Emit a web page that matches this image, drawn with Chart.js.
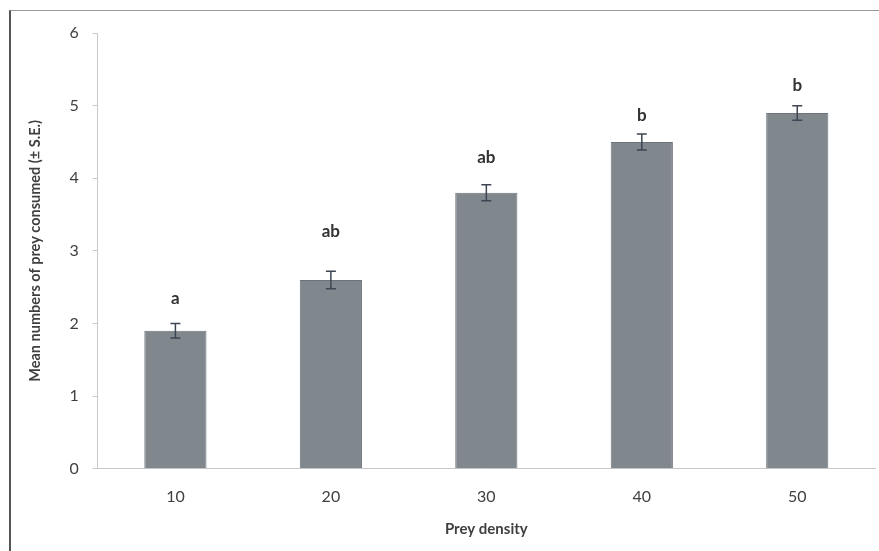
<!DOCTYPE html>
<html>
<head>
<meta charset="utf-8">
<script src="https://cdn.jsdelivr.net/npm/chart.js@4.4.1/dist/chart.umd.min.js"></script>
<style>
  html, body { margin: 0; padding: 0; background: #fff; }
  #wrap { position: relative; width: 879px; height: 551px; overflow: hidden; }
  #frame { position: absolute; left: 9px; top: 10px; width: 900px; height: 600px;
           border-left: 2px solid #555; border-top: 1px solid #999; box-sizing: border-box; pointer-events: none; }
  canvas { position: absolute; left: 0; top: 0; }
</style>
</head>
<body>
<div id="wrap">
  <canvas id="c" width="879" height="551"></canvas>
  <div id="frame"></div>
</div>
<script>
const categories = ['10', '20', '30', '40', '50'];
const meanConsumed = [1.9, 2.6, 3.8, 4.5, 4.9];
const standardError = [0.1, 0.12, 0.11, 0.11, 0.1];
const groupLetters = ['a', 'ab', 'ab', 'b', 'b'];
const letterLevel = [2.34, 3.26, 4.28, 4.87, 5.28];
const yTicks = [0, 1, 2, 3, 4, 5, 6];

const FONT = 'Lato, "Open Sans", sans-serif';

const errorBarPlugin = {
  id: 'errorBars',
  afterDatasetsDraw(chart) {
    const ctx = chart.ctx;
    const x = chart.scales.x, y = chart.scales.y;
    ctx.save();
    ctx.strokeStyle = '#3d4652';
    ctx.lineWidth = 1.5;
    meanConsumed.forEach((v, i) => {
      const px = x.getPixelForValue(i);
      const top = y.getPixelForValue(v + standardError[i]);
      const bot = y.getPixelForValue(v - standardError[i]);
      ctx.beginPath();
      ctx.moveTo(px, top); ctx.lineTo(px, bot);
      ctx.moveTo(px - 5, top); ctx.lineTo(px + 5, top);
      ctx.moveTo(px - 5, bot); ctx.lineTo(px + 5, bot);
      ctx.stroke();
    });
    ctx.fillStyle = '#333';
    ctx.font = 'bold 17px ' + FONT;
    ctx.textAlign = 'center';
    ctx.textBaseline = 'middle';
    groupLetters.forEach((t, i) => {
      ctx.fillText(t, x.getPixelForValue(i), y.getPixelForValue(letterLevel[i]));
    });
    ctx.restore();
  }
};

new Chart(document.getElementById('c'), {
  type: 'bar',
  data: {
    labels: categories,
    datasets: [{
      data: meanConsumed,
      backgroundColor: '#80878d',
      borderColor: '#6c737a',
      borderWidth: 1,
      barPercentage: 0.4,
      categoryPercentage: 1.0
    }]
  },
  options: {
    responsive: false,
    animation: false,
    devicePixelRatio: 1,
    layout: { padding: { left: 27, top: 33, right: 4, bottom: 9 } },
    plugins: { legend: { display: false }, tooltip: { enabled: false } },
    scales: {
      x: {
        grid: { display: false },
        border: { display: true, color: '#c8c8c8', width: 1 },
        ticks: { color: '#404040', font: { family: FONT, size: 16 }, padding: 10 },
        title: { display: true, text: 'Prey density', color: '#404040',
                 font: { family: FONT, size: 15, weight: 'bold' }, padding: { top: 4 } }
      },
      y: {
        min: 0, max: 6,
        afterBuildTicks(axis) { axis.ticks = yTicks.map(v => ({ value: v })); },
        grid: { drawOnChartArea: false, drawTicks: true, tickLength: 5, color: '#c8c8c8' },
        border: { display: true, color: '#c8c8c8', width: 1 },
        ticks: { color: '#404040', font: { family: FONT, size: 16 }, padding: 14 },
        title: { display: true, text: 'Mean numbers of prey consumed (± S.E.)', color: '#404040',
                 font: { family: FONT, size: 14.5, weight: 'bold' }, padding: { top: 0, bottom: 11 } }
      }
    }
  },
  plugins: [errorBarPlugin]
});
</script>
</body>
</html>
